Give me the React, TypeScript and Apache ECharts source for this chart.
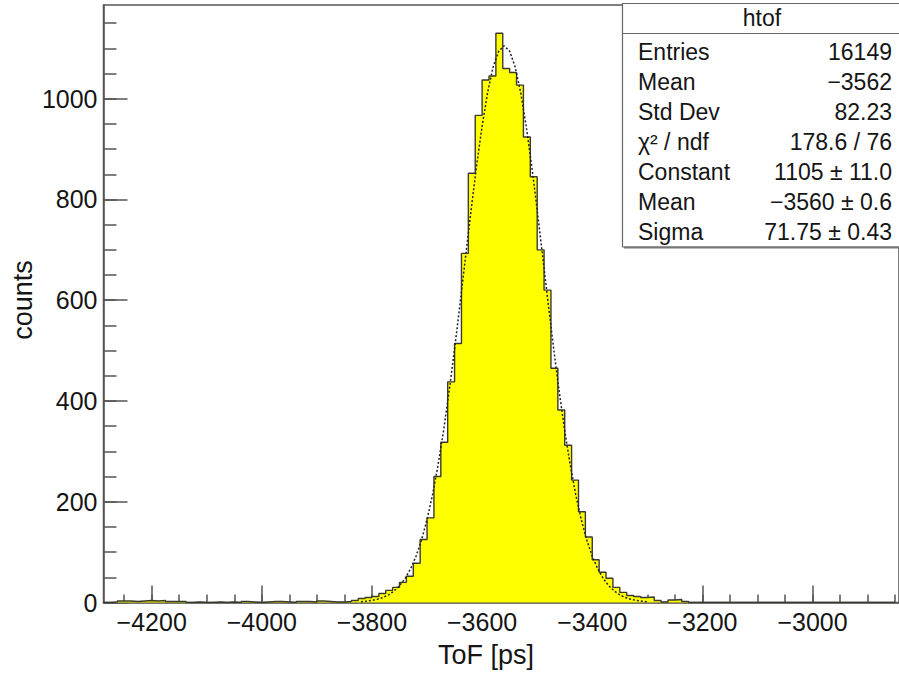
import React, { useEffect, useRef } from "react";
import * as echarts from "echarts";

// Histogram: first bin low edge and bin width (ps)
const binStart = -4287.5;
const binWidth = 12.5;
// Bin contents (115 bins, -4287.5 .. -2850)
const counts = [
  0, 1, 3, 3, 2, 3, 4, 3, 4, 2,
  2, 2, 0, 1, 0, 0, 1, 0, 1, 0,
  2, 1, 0, 1, 2, 2, 1, 0, 2, 2,
  1, 3, 2, 1, 1, 2, 4, 8, 10, 12,
  18, 24, 30, 40, 52, 78, 125, 168, 250, 318,
  438, 514, 693, 852, 967, 1037, 1045, 1130, 1060, 1052,
  1027, 924, 845, 700, 620, 465, 382, 312, 243, 180,
  130, 85, 60, 48, 30, 20, 14, 12, 10, 11,
  4, 1, 5, 6, 2, 0, 0, 0, 0, 0,
  0, 0, 0, 0, 0, 0, 0, 0, 0, 0,
  0, 0, 0, 0, 0, 0, 0, 0, 0, 0,
  0, 0, 0, 0, 0,
];

const fitX = [
  -3820, -3810, -3800, -3790, -3780, -3770, -3760, -3750, -3740, -3730,
  -3720, -3710, -3700, -3690, -3680, -3670, -3660, -3650, -3640, -3630,
  -3620, -3610, -3600, -3590, -3580, -3570, -3560, -3550, -3540, -3530,
  -3520, -3510, -3500, -3490, -3480, -3470, -3460, -3450, -3440, -3430,
  -3420, -3410, -3400, -3390, -3380, -3370, -3360, -3350, -3340, -3330,
  -3320, -3310, -3300,
];
const fitY = [
  1.6, 2.6, 4.1, 6.5, 10.0, 15.2, 22.7, 33.2, 47.5, 66.7,
  91.9, 124.3, 164.7, 214.0, 272.9, 341.2, 418.4, 503.2, 593.5, 686.6,
  778.9, 866.8, 945.9, 1012.5, 1062.9, 1094.3, 1105.0, 1094.3, 1062.9, 1012.5,
  945.9, 866.8, 778.9, 686.6, 593.5, 503.2, 418.4, 341.2, 272.9, 214.0,
  164.7, 124.3, 91.9, 66.7, 47.5, 33.2, 22.7, 15.2, 10.0, 6.5,
  4.1, 2.6, 1.6,
];

const xMajorTicks = [-4200, -4000, -3800, -3600, -3400, -3200, -3000];
const xMinorTicks = [
  -4250, -4200, -4150, -4100, -4050, -4000, -3950, -3900, -3850, -3800,
  -3750, -3700, -3650, -3600, -3550, -3500, -3450, -3400, -3350, -3300,
  -3250, -3200, -3150, -3100, -3050, -3000, -2950, -2900, -2850,
];
const yMajorTicks = [0, 200, 400, 600, 800, 1000];
const yMinorTicks = [
  50, 100, 150, 200, 250, 300, 350, 400, 450, 500, 550, 600,
  650, 700, 750, 800, 850, 900, 950, 1000, 1050, 1100, 1150,
];

const xTitle = "ToF [ps]";
const yTitle = "counts";
const statsTitle = "htof";
const statsLabels = ["Entries", "Mean", "Std Dev", "χ² / ndf", "Constant", "Mean", "Sigma"];
const statsValues = ["16149", "−3562", "82.23", "178.6 / 76", "1105 ± 11.0", "−3560 ± 0.6", "71.75 ± 0.43"];

const FONT = "'Liberation Sans', Arial, Helvetica, sans-serif";
const AXIS_COLOR = "#555";
const TEXT_COLOR = "#151515";

export default function App() {
  const ref = useRef<HTMLDivElement>(null);

  useEffect(() => {
    if (!ref.current) return;
    const chart = echarts.init(ref.current, undefined, { renderer: "svg" });

    const histData: number[][] = counts.map((c, i) => [binStart + i * binWidth, c]);
    histData.push([binStart + counts.length * binWidth, 0]);
    const fitData = fitX.map((x, i) => [x, fitY[i]]);

    const fmt = (v: number) => String(v).replace("-", "−");

    const statsGraphics: any[] = [
      {
        type: "rect",
        shape: { x: 622.5, y: 3.5, width: 290, height: 243.5 },
        style: { fill: "#fff", stroke: "#666", lineWidth: 1.2 },
        z: 100,
      },
      {
        type: "line",
        shape: { x1: 624, y1: 247.5, x2: 899, y2: 247.5 },
        style: { stroke: "#777", lineWidth: 2 },
        z: 100,
      },
      {
        type: "line",
        shape: { x1: 622.5, y1: 33.5, x2: 899, y2: 33.5 },
        style: { stroke: "#666", lineWidth: 1.2 },
        z: 101,
      },
      {
        type: "text",
        x: 762,
        y: 18,
        z: 101,
        style: {
          text: statsTitle,
          fontSize: 23,
          fontFamily: FONT,
          fill: TEXT_COLOR,
          align: "center",
          verticalAlign: "middle",
        },
      },
    ];
    statsLabels.forEach((lab, k) => {
      const y = 51.5 + 30 * k;
      statsGraphics.push({
        type: "text",
        x: 638,
        y,
        z: 101,
        style: { text: lab, fontSize: 23, fontFamily: FONT, fill: TEXT_COLOR, align: "left", verticalAlign: "middle" },
      });
      statsGraphics.push({
        type: "text",
        x: 892,
        y,
        z: 101,
        style: { text: statsValues[k], fontSize: 23, fontFamily: FONT, fill: TEXT_COLOR, align: "right", verticalAlign: "middle" },
      });
    });

    const xMin = -4287.5;
    const xMax = -2843;
    const yMin = 0;
    const yMax = 1186;

    chart.setOption({
      animation: false,
      backgroundColor: "#fff",
      grid: {
        left: 103.5,
        right: 0,
        top: 5,
        bottom: 70.5,
        show: true,
        borderColor: AXIS_COLOR,
        borderWidth: 1.5,
        backgroundColor: "transparent",
        containLabel: false,
        outerBoundsMode: "none",
      },
      xAxis: [
        {
          type: "value",
          min: xMin,
          max: xMax,
          position: "bottom",
          axisLine: { show: true, onZero: false, lineStyle: { color: AXIS_COLOR, width: 1.5 } },
          axisTick: {
            show: true,
            inside: true,
            length: 17,
            customValues: xMajorTicks,
            lineStyle: { color: AXIS_COLOR, width: 1.5 },
          },
          axisLabel: {
            show: true,
            customValues: xMajorTicks,
            formatter: fmt,
            fontSize: 25,
            fontFamily: FONT,
            color: TEXT_COLOR,
            margin: 7,
          },
          splitLine: { show: false },
        },
        {
          type: "value",
          min: xMin,
          max: xMax,
          position: "bottom",
          axisLine: { show: false, onZero: false },
          axisTick: {
            show: true,
            inside: true,
            length: 8,
            customValues: xMinorTicks,
            lineStyle: { color: AXIS_COLOR, width: 1.5 },
          },
          axisLabel: { show: false },
          splitLine: { show: false },
        },
      ],
      yAxis: [
        {
          type: "value",
          min: yMin,
          max: yMax,
          position: "left",
          axisLine: { show: true, onZero: false, lineStyle: { color: AXIS_COLOR, width: 1.5 } },
          axisTick: {
            show: true,
            inside: true,
            length: 24,
            customValues: yMajorTicks,
            lineStyle: { color: AXIS_COLOR, width: 1.5 },
          },
          axisLabel: {
            show: true,
            customValues: yMajorTicks,
            formatter: (v: number) => String(v),
            fontSize: 25,
            fontFamily: FONT,
            color: TEXT_COLOR,
            margin: 6,
          },
          splitLine: { show: false },
        },
        {
          type: "value",
          min: yMin,
          max: yMax,
          position: "left",
          axisLine: { show: false, onZero: false },
          axisTick: {
            show: true,
            inside: true,
            length: 13,
            customValues: yMinorTicks,
            lineStyle: { color: AXIS_COLOR, width: 1.5 },
          },
          axisLabel: { show: false },
          splitLine: { show: false },
        },
      ],
      series: [
        {
          type: "line",
          name: "htof",
          xAxisIndex: 0,
          yAxisIndex: 0,
          data: histData,
          step: "end",
          showSymbol: false,
          symbol: "none",
          lineStyle: { color: "#3a3a2c", width: 1.4 },
          areaStyle: { color: "#ffff00", opacity: 1 },
          z: 2,
        },
        {
          type: "line",
          name: "fit",
          xAxisIndex: 0,
          yAxisIndex: 0,
          data: fitData,
          showSymbol: false,
          symbol: "none",
          smooth: false,
          lineStyle: { color: "#222", width: 1.5, type: [2, 2] },
          z: 3,
        },
      ],
      graphic: [
        {
          type: "text",
          x: 23,
          y: 300,
          rotation: Math.PI / 2,
          style: {
            text: yTitle,
            fontSize: 27,
            fontFamily: FONT,
            fill: TEXT_COLOR,
            align: "center",
            verticalAlign: "middle",
          },
        },
        {
          type: "text",
          x: 486,
          y: 655,
          style: {
            text: xTitle,
            fontSize: 27,
            fontFamily: FONT,
            fill: TEXT_COLOR,
            align: "center",
            verticalAlign: "middle",
          },
        },
        ...statsGraphics,
      ],
    });

    return () => {
      chart.dispose();
    };
  }, []);

  return (
    <div
      ref={ref}
      style={{ position: "absolute", left: 0, top: 0, width: 899, height: 673, background: "#fff" }}
    />
  );
}
